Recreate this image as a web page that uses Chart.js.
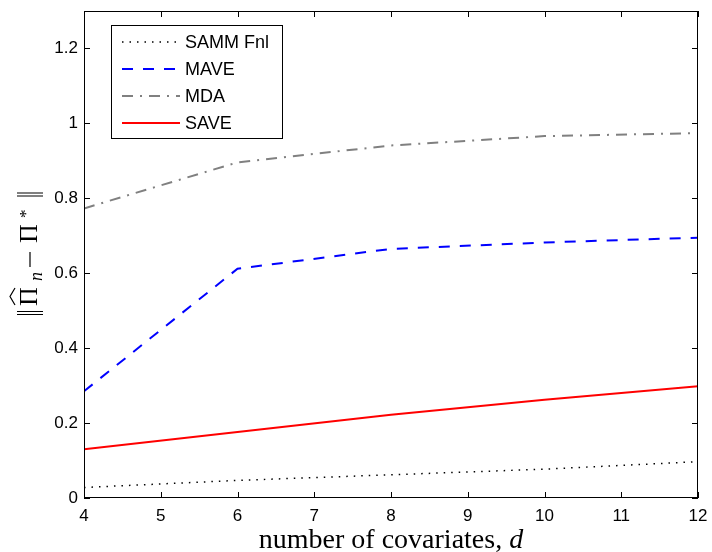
<!DOCTYPE html>
<html>
<head>
<meta charset="utf-8">
<script src="https://cdn.jsdelivr.net/npm/chart.js@4.4.1/dist/chart.umd.min.js"></script>
<style>
  html, body { margin: 0; padding: 0; background: #fff; }
  canvas { display: block; }
</style>
</head>
<body>
<canvas id="covChart" width="712" height="552"></canvas>
<script>
'use strict';

// number of covariates d
var covariates = [4, 6, 8, 10, 12];

// error ||Pi_n - Pi*|| per method
var sammFnl = [0.028, 0.047, 0.062, 0.077, 0.097];
var mave    = [0.285, 0.612, 0.665, 0.682, 0.695];
var mda     = [0.773, 0.896, 0.941, 0.966, 0.974];
var save    = [0.130, 0.176, 0.222, 0.262, 0.298];

var seriesNames = ['SAMM Fnl', 'MAVE', 'MDA', 'SAVE'];

function toPoints(values) {
    return covariates.map(function (d, i) { return { x: d, y: values[i] }; });
}

var tickFont = { family: '"Liberation Sans", Arial, sans-serif', size: 17 };

// inside tick marks on all four sides + box, MATLAB style
var boxTicks = {
    id: 'boxTicks',
    afterDraw: function (chart) {
        var ctx = chart.ctx, a = chart.chartArea;
        var xs = chart.scales.x, ys = chart.scales.y;
        var len = 6;
        ctx.save();
        ctx.strokeStyle = '#000';
        ctx.lineWidth = 1;
        ctx.beginPath();
        xs.ticks.forEach(function (t) {
            var px = Math.round(xs.getPixelForValue(t.value)) + 0.5;
            ctx.moveTo(px, a.bottom); ctx.lineTo(px, a.bottom - len);
            ctx.moveTo(px, a.top); ctx.lineTo(px, a.top + len);
        });
        ys.ticks.forEach(function (t) {
            var py = Math.round(ys.getPixelForValue(t.value)) + 0.5;
            ctx.moveTo(a.left, py); ctx.lineTo(a.left + len, py);
            ctx.moveTo(a.right, py); ctx.lineTo(a.right - len, py);
        });
        ctx.stroke();
        ctx.strokeRect(Math.round(a.left) + 0.5, Math.round(a.top) + 0.5,
            Math.round(a.right - a.left) - 1, Math.round(a.bottom - a.top) - 1);
        ctx.restore();
    }
};

// legend box in the upper left of the axes
var boxLegend = {
    id: 'boxLegend',
    afterDraw: function (chart) {
        var ctx = chart.ctx, a = chart.chartArea;
        var x0 = a.left + 27, y0 = a.top + 14, w = 171, h = 113;
        ctx.save();
        ctx.fillStyle = '#fff';
        ctx.fillRect(x0, y0, w, h);
        ctx.strokeStyle = '#000';
        ctx.lineWidth = 1;
        ctx.strokeRect(x0 + 0.5, y0 + 0.5, w, h);
        ctx.font = '18px "Liberation Sans", Arial, sans-serif';
        ctx.textBaseline = 'middle';
        chart.data.datasets.forEach(function (ds, i) {
            var yy = y0 + 17 + i * 27;
            ctx.beginPath();
            ctx.strokeStyle = ds.borderColor;
            ctx.lineWidth = ds.borderWidth;
            ctx.setLineDash(ds.borderDash || []);
            ctx.moveTo(x0 + 11, yy);
            ctx.lineTo(x0 + 69, yy);
            ctx.stroke();
            ctx.setLineDash([]);
            ctx.fillStyle = '#000';
            ctx.fillText(ds.label, x0 + 74, yy + 1);
        });
        ctx.restore();
    }
};

// axis titles in a TeX-like serif
var axisTitles = {
    id: 'axisTitles',
    afterDraw: function (chart) {
        var ctx = chart.ctx, a = chart.chartArea;
        ctx.save();
        ctx.fillStyle = '#000';
        ctx.textBaseline = 'alphabetic';

        // x title: "number of covariates, d"
        var head = 'number of covariates, ';
        ctx.font = '28px "Liberation Serif", serif';
        var w1 = ctx.measureText(head).width;
        ctx.font = 'italic 28px "Liberation Serif", serif';
        var w2 = ctx.measureText('d').width;
        var sx = (a.left + a.right) / 2 - (w1 + w2) / 2;
        ctx.font = '28px "Liberation Serif", serif';
        ctx.fillText(head, sx, 548);
        ctx.font = 'italic 28px "Liberation Serif", serif';
        ctx.fillText('d', sx + w1, 548);

        // y title: ||Pi-hat_n - Pi*||, rotated
        ctx.translate(37, 315);
        ctx.rotate(-Math.PI / 2);
        ctx.strokeStyle = '#000';
        ctx.lineWidth = 1.2;
        ctx.beginPath();
        [0.5, 3.5, 119, 122].forEach(function (bx) {
            ctx.moveTo(bx, -20); ctx.lineTo(bx, 6);
        });
        ctx.moveTo(10, -22); ctx.lineTo(18.5, -27); ctx.lineTo(27, -22);
        ctx.moveTo(48, -7); ctx.lineTo(63, -7);
        ctx.stroke();
        ctx.font = '26px "Liberation Serif", serif';
        ctx.fillText('\u03A0', 9, 0);
        ctx.fillText('\u03A0', 72, 0);
        ctx.font = 'italic 18px "Liberation Serif", serif';
        ctx.fillText('n', 34, 5);
        ctx.font = '17px "Liberation Serif", serif';
        ctx.fillText('*', 97, -6);
        ctx.restore();
    }
};

function noScalePadding(scale) {
    scale.paddingTop = 0;
    scale.paddingBottom = 0;
    scale.paddingLeft = 0;
    scale.paddingRight = 0;
}

var chart = new Chart(document.getElementById('covChart'), {
    type: 'line',
    data: {
        datasets: [
            {
                label: seriesNames[0],
                data: toPoints(sammFnl),
                borderColor: '#000000',
                borderWidth: 1.5,
                borderDash: [1.5, 6],
                borderCapStyle: 'butt'
            },
            {
                label: seriesNames[1],
                data: toPoints(mave),
                borderColor: '#0000ff',
                borderWidth: 2,
                borderDash: [11, 10]
            },
            {
                label: seriesNames[2],
                data: toPoints(mda),
                borderColor: '#808080',
                borderWidth: 2,
                borderDash: [11, 7, 2, 7]
            },
            {
                label: seriesNames[3],
                data: toPoints(save),
                borderColor: '#ff0000',
                borderWidth: 2,
                borderDash: []
            }
        ]
    },
    options: {
        responsive: false,
        animation: false,
        events: [],
        layout: { padding: { left: 0, right: 14, top: 11, bottom: 0 } },
        elements: {
            point: { radius: 0 },
            line: { tension: 0, fill: false }
        },
        plugins: {
            legend: { display: false },
            tooltip: { enabled: false }
        },
        scales: {
            x: {
                type: 'linear',
                min: 4,
                max: 12,
                grid: { display: false, drawTicks: false },
                border: { display: false },
                ticks: { stepSize: 1, padding: 8, color: '#000', font: tickFont, maxRotation: 0 },
                afterFit: function (scale) { scale.height = 54; noScalePadding(scale); }
            },
            y: {
                min: 0,
                max: 1.3,
                grid: { display: false, drawTicks: false },
                border: { display: false },
                ticks: {
                    stepSize: 0.2,
                    includeBounds: false,
                    padding: 6,
                    color: '#000',
                    font: tickFont,
                    callback: function (v) { return String(Math.round(v * 10) / 10); }
                },
                afterFit: function (scale) { scale.width = 84; noScalePadding(scale); }
            }
        }
    },
    plugins: [boxTicks, boxLegend, axisTitles]
});
</script>
</body>
</html>
